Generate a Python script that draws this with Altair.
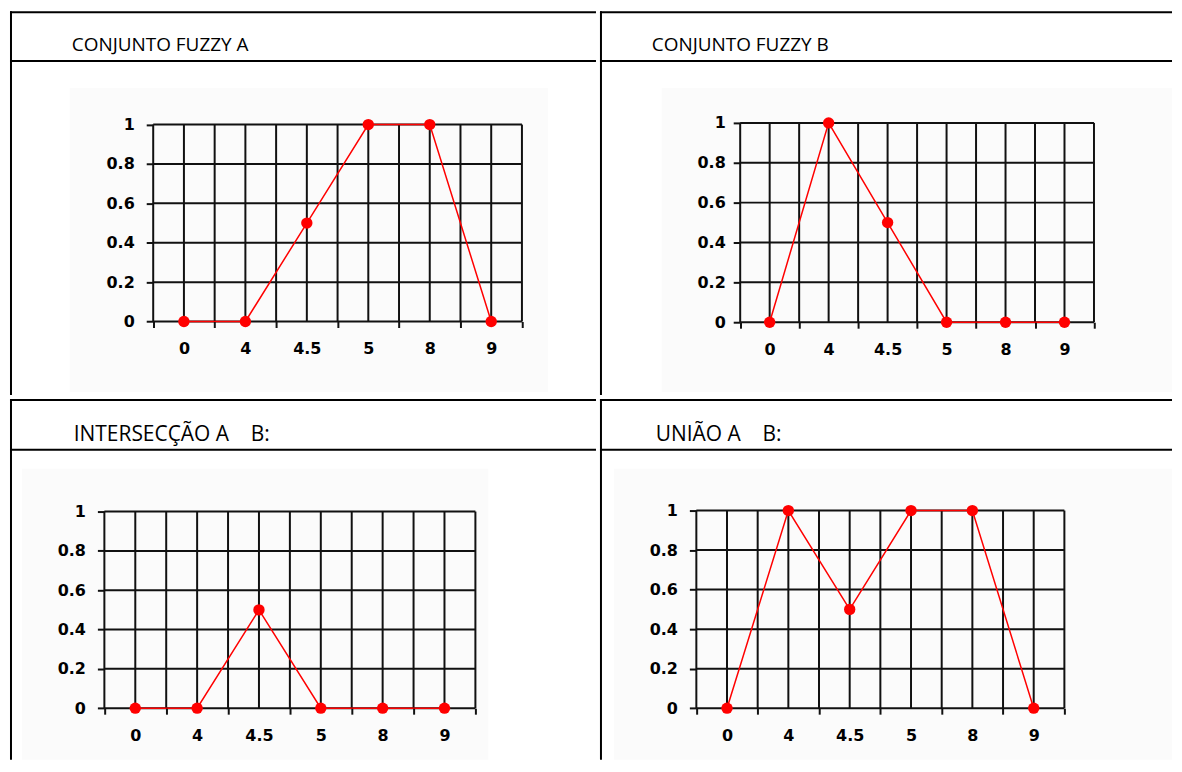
import json
import altair as alt
import pandas as pd

# ---- data ----
categories = ["0", "4", "4.5", "5", "8", "9"]
fuzzy_a = [0, 0, 0.5, 1, 1, 0]
fuzzy_b = [0, 1, 0.5, 0, 0, 0]
intersection_ab = [0, 0, 0.5, 0, 0, 0]
union_ab = [0, 1, 0.5, 1, 1, 0]
titles = ["CONJUNTO FUZZY A", "CONJUNTO FUZZY B",
          "INTERSECÇÃO A\u00a0\u00a0\u00a0 B:",
          "UNIÃO A\u00a0\u00a0\u00a0 B:"]
y_ticks = [0, 0.2, 0.4, 0.6, 0.8, 1]
grid_columns = list(range(2 * len(categories) + 1))   # 0..12

RED = "#ff0000"
GRID = "#111111"
LABEL_FONT = "DejaVu Sans"
HEAD_FONT = "Open Sans"

one = pd.DataFrame({"k": [0]})


def panel(values, title, W, H, xr, yr, tx, ty, hy, bg, ypad, xpad, hsize):
    n_cols = grid_columns[-1]
    df = pd.DataFrame({
        "cat": categories,
        "pos": [2 * i + 1 for i in range(len(categories))],
        "mu": values,
    })
    gx, gx2, gy, gy2 = [], [], [], []
    for c in grid_columns:
        gx.append(c); gx2.append(c); gy.append(0); gy2.append(1)
    for v in y_ticks:
        gx.append(0); gx2.append(n_cols); gy.append(v); gy2.append(v)
    grid_df = pd.DataFrame({"pos": gx, "pos2": gx2, "mu": gy, "mu2": gy2})

    xs = alt.Scale(domain=[0, n_cols], range=xr, nice=False, zero=False)
    ys = alt.Scale(domain=[0, 1], range=yr, nice=False, zero=False)

    label_expr = (f"datum.value % 2 == 1 ? {json.dumps(categories)}"
                  f"[(datum.value - 1) / 2] : ''")
    x_axis = alt.Axis(
        values=grid_columns, labelExpr=label_expr,
        tickOpacity={"condition": {"test": "datum.value % 2 == 1", "value": 0}, "value": 1},
        tickSize=6, tickWidth=2, tickColor=GRID, domain=False, grid=False,
        labelFont=LABEL_FONT, labelFontWeight="bold", labelFontSize=16,
        labelColor="#000000", labelPadding=xpad, labelOverlap=False,
        labelFlush=False, title=None, offset=-(H - yr[0]), zindex=1,
    )
    y_axis = alt.Axis(
        values=y_ticks, format="~g", tickSize=7, tickWidth=2, tickColor=GRID,
        domain=False, grid=False, labelFont=LABEL_FONT, labelFontWeight="bold",
        labelFontSize=16, labelColor="#000000", labelPadding=ypad,
        labelOverlap=False, labelFlush=False, title=None, offset=-xr[0], zindex=1,
    )

    def X(f):
        return alt.X(f, scale=xs, axis=x_axis)

    def Y(f):
        return alt.Y(f, scale=ys, axis=y_axis)

    layers = []
    layers.append(alt.Chart(one).mark_rect(color="#fbfbfb").encode(
        x=alt.value(bg[0]), x2=alt.value(bg[1]),
        y=alt.value(bg[2]), y2=alt.value(bg[3])))
    layers.append(alt.Chart(grid_df).mark_rule(color=GRID, strokeWidth=2).encode(
        x=X("pos:Q"), x2="pos2:Q", y=Y("mu:Q"), y2="mu2:Q"))
    layers.append(alt.Chart(one).mark_rule(color="#000", strokeWidth=2).encode(
        x=alt.value(0), x2=alt.value(W), y=alt.value(1)))
    layers.append(alt.Chart(one).mark_rule(color="#000", strokeWidth=2).encode(
        x=alt.value(1), y=alt.value(0), y2=alt.value(H)))
    layers.append(alt.Chart(one).mark_rule(color="#000", strokeWidth=2).encode(
        x=alt.value(0), x2=alt.value(W), y=alt.value(hy)))
    layers.append(alt.Chart(one).mark_text(
        align="left", baseline="alphabetic", font=HEAD_FONT, fontSize=hsize,
        color="#000000").encode(
        x=alt.value(tx), y=alt.value(ty), text=alt.value(title)))
    layers.append(alt.Chart(df).mark_line(color=RED, strokeWidth=1.5).encode(
        x=X("pos:Q"), y=Y("mu:Q")))
    layers.append(alt.Chart(df).mark_circle(color=RED, size=130, opacity=1).encode(
        x=X("pos:Q"), y=Y("mu:Q")))
    return alt.layer(*layers).properties(width=W, height=H)


A = panel(fuzzy_a, titles[0], 588, 385, [143.7, 513.7], [311.3, 113.7],
          62, 40, 50, [60, 540, 77, 382], 12, 13, 19)
B = panel(fuzzy_b, titles[1], 574, 385, [140.7, 495.7], [312, 112],
          52, 40, 50, [62, 574, 77, 382], 8, 13, 19)
C = panel(intersection_ab, titles[2], 588, 362, [94.7, 467], [310.3, 113],
          64, 42, 51, [12, 480, 70, 362], 12, 13, 21)
D = panel(union_ab, titles[3], 574, 362, [96.7, 466], [310.3, 112],
          56, 42, 51, [14, 574, 70, 362], 12, 13, 21)

chart = alt.vconcat(
    alt.hconcat(A, B, spacing=0),
    alt.hconcat(C, D, spacing=0),
    spacing=0,
).properties(padding=0).configure_view(stroke="transparent")

chart.save("out.html", embed_options={"renderer": "svg", "actions": False})
